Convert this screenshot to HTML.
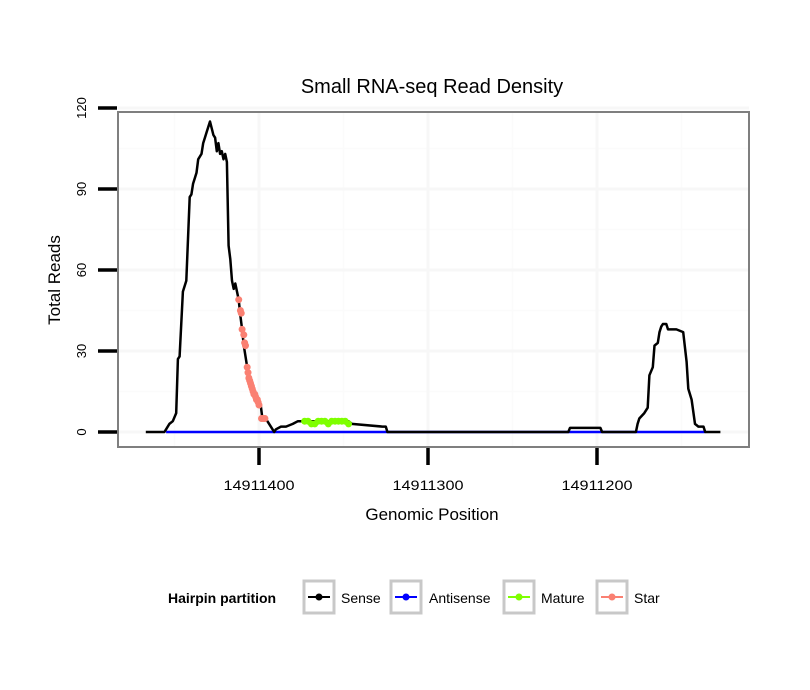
<!DOCTYPE html>
<html><head><meta charset="utf-8"><style>
body{margin:0;background:#fff;}
svg{display:block;font-family:"Liberation Sans",sans-serif;}
</style></head><body>
<svg id="chart" width="810" height="690">
<rect x="0" y="0" width="810" height="690" fill="#fff"/>
<text x="432" y="93" font-size="20" text-anchor="middle">Small RNA-seq Read Density</text>
<g id="grid"></g>
<g id="series"></g>
<rect x="118" y="112" width="631" height="335" fill="none" stroke="#7f7f7f" stroke-width="2"/>
<g id="axes"></g>
<text x="432" y="520" font-size="17" text-anchor="middle">Genomic Position</text>
<text transform="translate(60,280) rotate(-90)" font-size="17" text-anchor="middle">Total Reads</text>
<g>
<text x="168" y="603" font-size="14" font-weight="bold">Hairpin partition</text>
<g><rect x="304" y="581" width="30" height="32" fill="#fff" stroke="#c8c8c8" stroke-width="3"/><line x1="308" x2="330" y1="597" y2="597" stroke="#000" stroke-width="2"/><circle cx="319" cy="597" r="3.5" fill="#000"/><text x="341" y="603" font-size="14">Sense</text></g>
<g><rect x="391" y="581" width="30" height="32" fill="#fff" stroke="#c8c8c8" stroke-width="3"/><line x1="395" x2="417" y1="597" y2="597" stroke="#0000ff" stroke-width="2"/><circle cx="406" cy="597" r="3.5" fill="#0000ff"/><text x="429" y="603" font-size="14">Antisense</text></g>
<g><rect x="504" y="581" width="30" height="32" fill="#fff" stroke="#c8c8c8" stroke-width="3"/><line x1="508" x2="530" y1="597" y2="597" stroke="#7fff00" stroke-width="2"/><circle cx="519" cy="597" r="3.5" fill="#7fff00"/><text x="541" y="603" font-size="14">Mature</text></g>
<g><rect x="597" y="581" width="30" height="32" fill="#fff" stroke="#c8c8c8" stroke-width="3"/><line x1="601" x2="623" y1="597" y2="597" stroke="#fa8072" stroke-width="2"/><circle cx="612" cy="597" r="3.5" fill="#fa8072"/><text x="634" y="603" font-size="14">Star</text></g>
</g>
</svg>
<script>
const senseOffsets=[467,456,455,453,451,449,448,447,445,443,441,440,439,438,437,436,434,433,432,431,430,429,427,426,425,424,423,422,421,420,419,418,417,416,415,414,413,412,411,410,409,407,405,403,402,400,399,398,397,395,393,391,390,387,384,380,377,373,360,347,345,327,325,324,217,216,198,197,177,176,175,172,170,169,167,166,164,163,162,161,159,158,153,149,147,146,144,142,140,137,136,127];
const senseReads=[0,0,1,3,4,7,27,28,52,56,87,88,92,94,96,101,103,107,109,111,113,115,110,109,104,107,103,104,101,103,100,69,64,56,53,55,52,49,43,38,32,24,19,16,13,12,10,5,5,4,2,0,1,2,2,3,4,4,4,4,3,2,2,0,0,1.5,1.5,0,0,3,5,7,9,21,24,32,33,37,39,40,40,38,38,37,26,16,12,3,2,2,0,0];
const antisenseOffsets=[455,136];
const antisenseReads=[0,0];
const matureOffsets=[373,371,369,367,365,363,361,359,357,355,353,351,349,347];
const matureReads=[4,4,3,3,4,4,4,3,4,4,4,4,4,3];
const starOffsets=[412,411,410.5,410,409,408.5,408,407,406.5,406,405.5,405,404.5,404,403.5,403,402.5,402,401.5,401,400.5,400,398.5,397.5,396.5];
const starReads=[49,45,44,38,36,33,32,24,22,20,19,18,17,16,15,14,14,13,12,12,11,10,5,5,5];
const yTicks=[0,30,60,90,120];
const xTicks=[14911400,14911300,14911200];
const base=14911000;
const NS="http://www.w3.org/2000/svg";
function X(g){return 259+(14911400-g)*1.69;}
function Y(r){return 432-r*2.7;}
function mk(tag,attrs,parent){const e=document.createElementNS(NS,tag);for(const k in attrs)e.setAttribute(k,attrs[k]);parent.appendChild(e);return e;}
const grid=document.getElementById('grid'),series=document.getElementById('series'),axes=document.getElementById('axes');
for(let i=0;i<yTicks.length-1;i++){const v=(yTicks[i]+yTicks[i+1])/2;const l=mk('line',{x1:118,x2:749,y1:Y(v),y2:Y(v),stroke:'#fbfbfb','stroke-width':1.5},grid);

}
[14911450,14911350,14911250,14911150].forEach(v=>{const l=mk('line',{x1:X(v),x2:X(v),y1:112,y2:447,stroke:'#fbfbfb','stroke-width':1.5},grid);

});
yTicks.forEach(v=>{const l=mk('line',{x1:118,x2:749,y1:Y(v),y2:Y(v),stroke:'#f7f7f7','stroke-width':3},grid);


const t=mk('line',{x1:98,x2:117,y1:Y(v),y2:Y(v),stroke:'#000','stroke-width':3.5},axes);


const tx=mk('text',{transform:`translate(86,${Y(v)}) rotate(-90)`,'font-size':13,'text-anchor':'middle'},axes);tx.textContent=v;

});
xTicks.forEach(v=>{const l=mk('line',{x1:X(v),x2:X(v),y1:112,y2:447,stroke:'#f7f7f7','stroke-width':3},grid);


const t=mk('line',{x1:X(v),x2:X(v),y1:448,y2:465,stroke:'#000','stroke-width':3.5},axes);


const tx=mk('text',{x:X(v),y:490,'font-size':14,'text-anchor':'middle','textLength':71,'lengthAdjust':'spacingAndGlyphs'},axes);tx.textContent=v;

});
function pts(o,r){return o.map((d,i)=>X(base+d).toFixed(1)+','+Y(r[i]).toFixed(1)).join(' ');}
const anti=mk('polyline',{points:pts(antisenseOffsets,antisenseReads),fill:'none',stroke:'#0000ff','stroke-width':2.5},series);


const sense=mk('polyline',{points:pts(senseOffsets,senseReads),fill:'none',stroke:'#000','stroke-width':2.5,'stroke-linejoin':'round'},series);


matureOffsets.forEach((d,i)=>{const c=mk('circle',{cx:X(base+d),cy:Y(matureReads[i]),r:3.5,fill:'#7fff00'},series);

});
starOffsets.forEach((d,i)=>{const c=mk('circle',{cx:X(base+d),cy:Y(starReads[i]),r:3.5,fill:'#fa8072'},series);

});
</script>
</body></html>
